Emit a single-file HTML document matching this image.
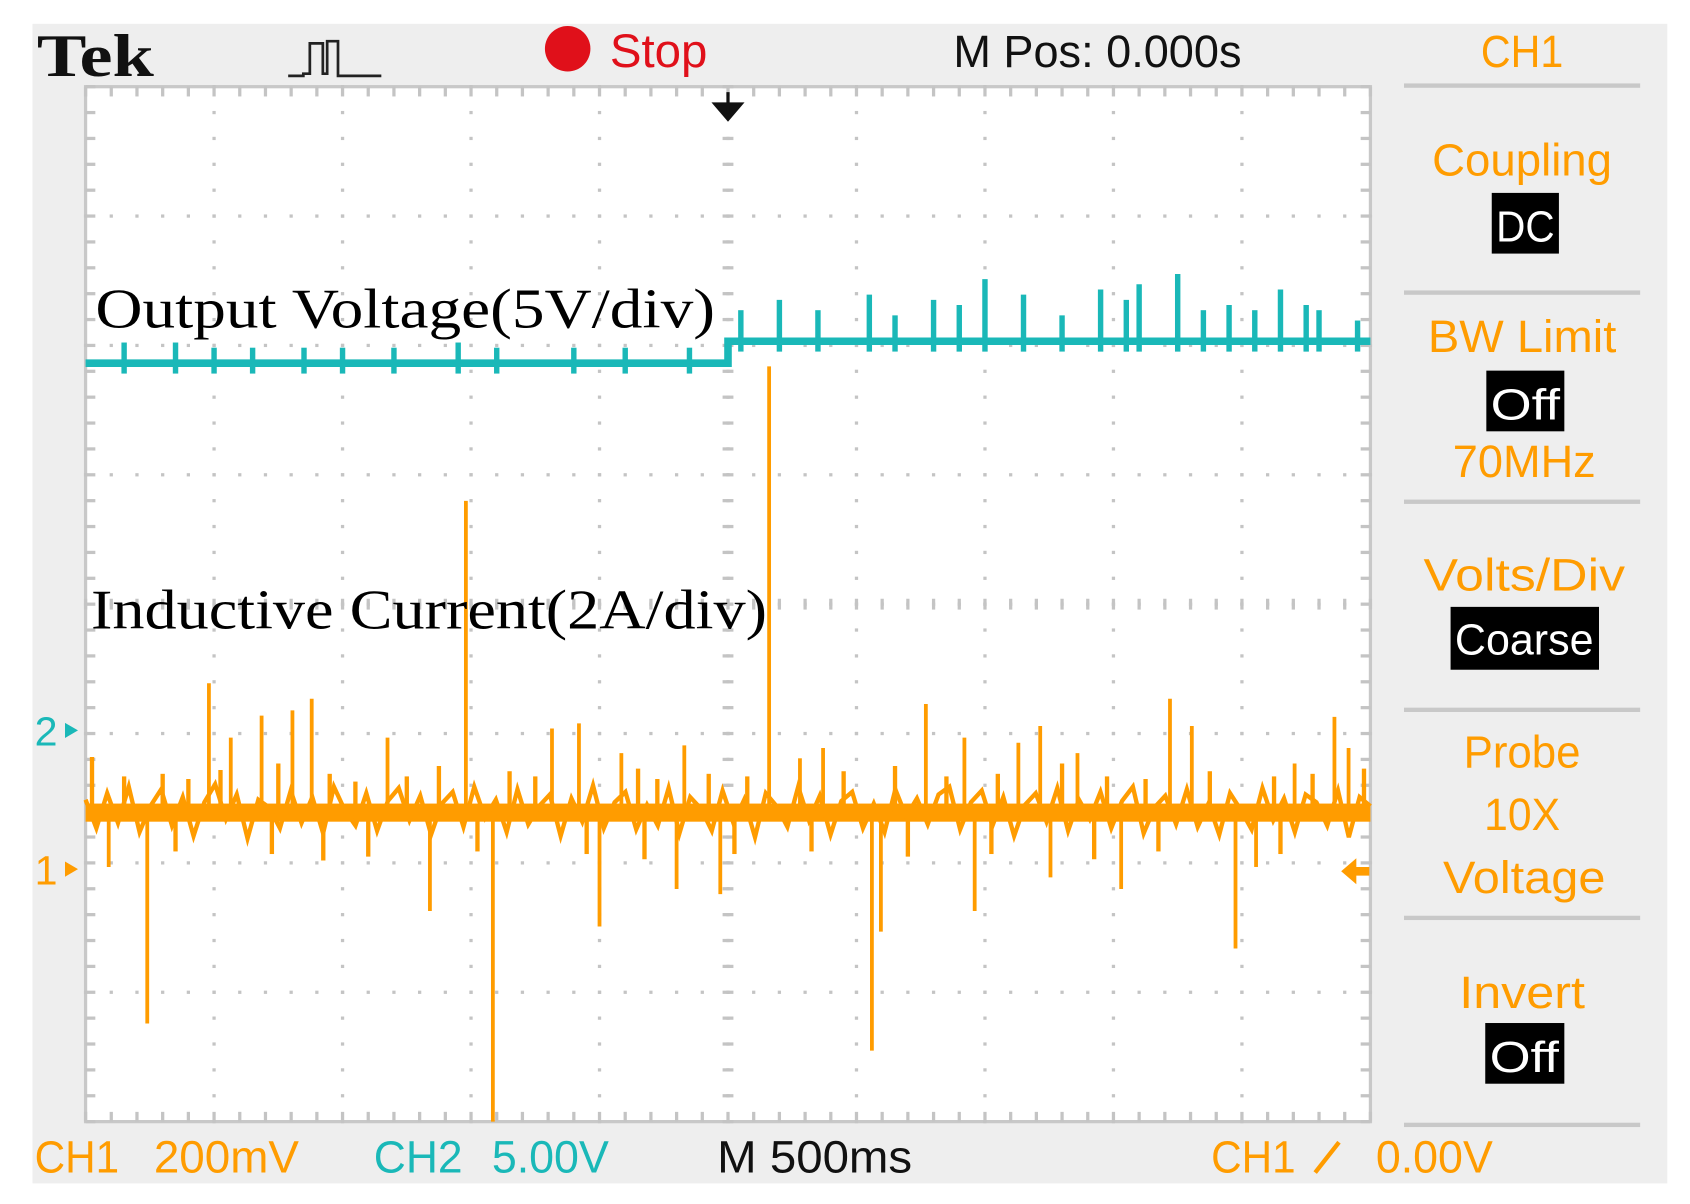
<!DOCTYPE html>
<html><head><meta charset="utf-8"><style>
html,body{margin:0;padding:0;background:#fff;}
svg{display:block;}
.osc{font-family:"Liberation Sans",sans-serif;}
</style></head><body>
<svg id="scope" width="1690" height="1204" viewBox="0 0 1560 1111" preserveAspectRatio="none">
<rect x="30" y="22" width="1509" height="1070" fill="#eeeeee"/>
<rect x="79" y="80" width="1186" height="955" fill="#ffffff" stroke="#c8c8c8" stroke-width="3"/>
<g id="grid"></g>
<g id="traces"></g>
<text x="34" y="70" font-family="Liberation Serif,serif" font-weight="bold" font-size="56" textLength="108" lengthAdjust="spacingAndGlyphs" fill="#111">Tek</text>
<path d="M266 70 h14 v-2 h6 v-28 h12 v28 h4 v-30 h10 v32 h40" fill="none" stroke="#222" stroke-width="2.5"/>
<circle cx="524" cy="45" r="21" fill="#e0101a"/>
<text class="osc" x="563" y="62" font-size="44" textLength="90" lengthAdjust="spacingAndGlyphs" fill="#e0101a">Stop</text>
<text class="osc" x="880" y="62" font-size="42" textLength="266" lengthAdjust="spacingAndGlyphs" fill="#111">M Pos: 0.000s</text>
<path d="M672 85 v20 M660 96 l12 14 l12 -14 z" stroke="#111" stroke-width="3" fill="#111"/>
<g class="osc" fill="#ff9c00" font-size="42" text-anchor="middle">
<text x="1405" y="62" textLength="76" lengthAdjust="spacingAndGlyphs">CH1</text>
<text x="1405" y="162" textLength="166" lengthAdjust="spacingAndGlyphs">Coupling</text>
<text x="1405" y="325" textLength="174" lengthAdjust="spacingAndGlyphs">BW Limit</text>
<text x="1407" y="440" textLength="132" lengthAdjust="spacingAndGlyphs">70MHz</text>
<text x="1407" y="545" textLength="186" lengthAdjust="spacingAndGlyphs">Volts/Div</text>
<text x="1405" y="708" textLength="108" lengthAdjust="spacingAndGlyphs">Probe</text>
<text x="1405" y="766" textLength="70" lengthAdjust="spacingAndGlyphs">10X</text>
<text x="1407" y="824" textLength="150" lengthAdjust="spacingAndGlyphs">Voltage</text>
<text x="1405" y="930" textLength="116" lengthAdjust="spacingAndGlyphs">Invert</text>
</g>
<g fill="#c8c8c8">
<rect x="1296" y="77" width="218" height="4"/><rect x="1296" y="268" width="218" height="4"/><rect x="1296" y="461" width="218" height="4"/><rect x="1296" y="653" width="218" height="4"/><rect x="1296" y="845" width="218" height="4"/><rect x="1296" y="1036" width="218" height="4"/>
</g>
<g class="osc" font-size="40" text-anchor="middle">
<rect x="1377" y="178" width="62" height="56" fill="#000"/><text x="1408" y="223" fill="#fff" textLength="54" lengthAdjust="spacingAndGlyphs">DC</text>
<rect x="1372" y="342" width="72" height="56" fill="#000"/><text x="1408" y="387" fill="#fff" textLength="64" lengthAdjust="spacingAndGlyphs">Off</text>
<rect x="1339" y="560" width="137" height="58" fill="#000"/><text x="1407" y="604" fill="#fff" textLength="128" lengthAdjust="spacingAndGlyphs">Coarse</text>
<rect x="1371" y="944" width="73" height="56" fill="#000"/><text x="1407" y="989" fill="#fff" textLength="64" lengthAdjust="spacingAndGlyphs">Off</text>
</g>
<text class="osc" x="32" y="688" font-size="38" fill="#1ab8b8">2</text>
<path d="M60 667 l12 7 l-12 7 z" fill="#1ab8b8"/>
<text class="osc" x="32" y="816" font-size="38" fill="#ff9c00">1</text>
<path d="M60 795 l12 7 l-12 7 z" fill="#ff9c00"/>
<path d="M1238 804 l14 -12 v8 h12 v8 h-12 v8 z" fill="#ff9c00"/>
<text x="88" y="302" font-family="Liberation Serif,serif" font-size="52" textLength="572" lengthAdjust="spacingAndGlyphs" fill="#000">Output Voltage(5V/div)</text>
<text x="84" y="580" font-family="Liberation Serif,serif" font-size="52" textLength="624" lengthAdjust="spacingAndGlyphs" fill="#000">Inductive Current(2A/div)</text>
<g class="osc" font-size="42">
<text x="32" y="1082" fill="#ff9c00" textLength="78" lengthAdjust="spacingAndGlyphs">CH1</text>
<text x="142" y="1082" fill="#ff9c00" textLength="134" lengthAdjust="spacingAndGlyphs">200mV</text>
<text x="345" y="1082" fill="#1ab8b8" textLength="82" lengthAdjust="spacingAndGlyphs">CH2</text>
<text x="454" y="1082" fill="#1ab8b8" textLength="108" lengthAdjust="spacingAndGlyphs">5.00V</text>
<text x="662" y="1082" fill="#111" textLength="180" lengthAdjust="spacingAndGlyphs">M 500ms</text>
<text x="1118" y="1082" fill="#ff9c00" textLength="78" lengthAdjust="spacingAndGlyphs">CH1</text>
<path d="M1214 1082 l22 -28" stroke="#ff9c00" stroke-width="4"/>
<text x="1270" y="1082" fill="#ff9c00" textLength="108" lengthAdjust="spacingAndGlyphs">0.00V</text>
</g>
</svg>
<script>
// ---- chart data ----
const ch1Baseline = 0.42;
const ch1Noise = [0.1,-0.12,0.15,-0.08,0.2,-0.15,0.05,0.18,-0.1,0.12,-0.18,0.08,0.22,-0.05,0.14,-0.2,0.1,0.04,-0.12,0.17,-0.08,0.12,-0.16,0.2,0.02,-0.1,0.15,-0.14,0.09,0.19,-0.06,0.13,-0.17,0.07,0.16,-0.11,0.2,-0.04,0.1,-0.15,0.18,-0.09,0.05,0.14,-0.18,0.11,-0.07,0.21,-0.12,0.08,0.16,-0.13,0.06,-0.1,0.19,-0.16,0.12,0.03,-0.14,0.17,-0.08,0.1,-0.19,0.15,0.05,-0.11,0.2,-0.06,0.13,-0.17,0.09,0.16,-0.12,0.07,-0.15,0.18,-0.03,0.11,-0.09,0.14,0.2,-0.13,0.08,0.17,-0.1,0.12,-0.18,0.06,0.15,-0.07,0.19,-0.14,0.1,-0.05,0.16,-0.12,0.09,0.2,-0.16,0.04,0.13,-0.09,0.18,-0.11,0.07,-0.17,0.15,0.02,-0.13,0.19,-0.06,0.11,-0.15,0.14,0.08,-0.1,0.17,-0.19,0.12,0.05];
const spikeTimes = [0.96,1.13,1.37,1.61,1.76,2.35,2.96,3.63,3.84,4.17,4.66,5.32,5.56,5.74,6.54,6.84,7.26,7.43,7.72,8.44,8.61,9.41,9.72,9.83,0.48,0.18,2.68,3.17,4.0,4.6,4.94,6.12,6.19,6.92,7.51,8.06,8.95,9.11];
const spikeValues = [1.42,1.0,1.17,1.21,1.30,1.0,2.83,1.07,1.11,0.88,0.94,3.87,0.84,0.92,1.26,1.0,0.96,1.09,0.88,1.30,1.09,0.80,1.16,0.92,-1.21,0.0,-0.34,-1.97,-0.46,-0.17,-0.21,-1.42,-0.5,-0.34,-0.08,-0.17,-0.63,0.0];
const smallSpikeTimes = [0.05,0.3,0.6,0.8,1.05,1.5,1.9,2.1,2.5,2.75,3.3,3.5,4.3,4.45,4.85,5.15,5.9,6.3,6.7,7.1,7.6,7.95,8.25,8.75,9.25,9.55,9.95,0.7,1.45,1.85,2.2,3.05,3.9,4.35,5.05,5.65,6.4,7.05,7.85,8.35,9.3];
const smallSpikeValues = [0.85,0.7,0.72,0.68,0.75,0.8,0.72,0.66,0.7,0.78,0.74,0.7,0.76,0.68,0.72,0.7,0.74,0.78,0.7,0.72,0.8,0.7,0.68,0.74,0.7,0.72,0.76,0.12,0.1,0.05,0.08,0.12,0.1,0.06,0.1,0.12,0.08,0.1,0.06,0.12,0.1];
const vTimes = [0,5.0,5.0,10];
const vLevels = [14.15,14.15,15.0,15.0];
const vBumpTimes = [0.3,0.7,1.0,1.3,1.7,2.0,2.4,2.9,3.2,3.8,4.2,4.7,5.1,5.4,5.7,6.1,6.3,6.6,6.8,7.0,7.3,7.6,7.9,8.1,8.2,8.5,8.7,8.9,9.1,9.3,9.5,9.6,9.9];
const vBumpValues = [0.4,0.4,0.3,0.3,0.3,0.3,0.3,0.4,0.3,0.3,0.3,0.3,0.6,0.8,0.6,0.9,0.5,0.8,0.7,1.2,0.9,0.5,1.0,0.8,1.1,1.3,0.6,0.7,0.6,1.0,0.7,0.6,0.4];
const ch2VoltsPerDiv = 5;
// ---- axes ----
const X0=79,X1=1265,Y0=80,Y1=1035;
const divW=(X1-X0)/10, divH=(Y1-Y0)/8;
const ch1Ground=800, ch2Ground=673;
const xs=t=>X0+t*divW;
const y1=v=>ch1Ground-v*divH;
const y2=v=>ch2Ground-(v/ch2VoltsPerDiv)*divH;
const NS='http://www.w3.org/2000/svg';
function mk(tag,attrs,parent){const e=document.createElementNS(NS,tag);for(const k in attrs)e.setAttribute(k,attrs[k]);parent.appendChild(e);return e;}
const grid=document.getElementById('grid');
for(let i=1;i<10;i++){for(let j=0;j<=40;j++){const c=mk('rect',{x:xs(i)-1.5,y:Y0+j*divH/5-1.5,width:3,height:3,fill:'#c4c4c4'},grid);

}}
for(let j=1;j<8;j++){for(let i=0;i<=50;i++){const c=mk('rect',{x:X0+i*divW/5-1.5,y:Y0+j*divH-1.5,width:3,height:3,fill:'#c4c4c4'},grid);

}}
for(let i=0;i<=50;i++){const xx=X0+i*divW/5;
const t1=mk('rect',{x:xx-1.5,y:Y0,width:3,height:9,fill:'#c4c4c4'},grid);
const t2=mk('rect',{x:xx-1.5,y:Y1-9,width:3,height:9,fill:'#c4c4c4'},grid);
const t3=mk('rect',{x:xx-1.5,y:(Y0+Y1)/2-5,width:3,height:10,fill:'#c4c4c4'},grid);}
for(let j=0;j<=40;j++){const yy=Y0+j*divH/5;
const t1=mk('rect',{x:X0,y:yy-1.5,width:9,height:3,fill:'#c4c4c4'},grid);
const t2=mk('rect',{x:X1-9,y:yy-1.5,width:9,height:3,fill:'#c4c4c4'},grid);
const t3=mk('rect',{x:(X0+X1)/2-5,y:yy-1.5,width:10,height:3,fill:'#c4c4c4'},grid);}
const tr=document.getElementById('traces');
let pv='';vTimes.forEach((t,i)=>{pv+=(i?'L':'M')+xs(t)+' '+y2(vLevels[i]);});
const vl=mk('path',{d:pv,fill:'none',stroke:'#1ab8b8','stroke-width':7},tr);


vBumpTimes.forEach((t,i)=>{const lv=t<5?vLevels[0]:vLevels[2];
const b=mk('line',{x1:xs(t),x2:xs(t),y1:y2(lv-0.4),y2:y2(lv+vBumpValues[i]*2),stroke:'#1ab8b8','stroke-width':5},tr);

});
let pc='';const n=ch1Noise.length;
ch1Noise.forEach((d,i)=>{pc+=(i?'L':'M')+xs(i*10/(n-1))+' '+y1(ch1Baseline+d);});
const band=mk('rect',{x:X0,y:y1(ch1Baseline+0.07),width:X1-X0,height:divH*0.14,fill:'#ff9c00'},tr);


const cl=mk('path',{d:pc,fill:'none',stroke:'#ff9c00','stroke-width':4},tr);


smallSpikeTimes.forEach((t,i)=>{
const s=mk('line',{x1:xs(t),x2:xs(t),y1:y1(ch1Baseline),y2:y1(smallSpikeValues[i]),stroke:'#ff9c00','stroke-width':4},tr);

});
spikeTimes.forEach((t,i)=>{
const s=mk('line',{x1:xs(t),x2:xs(t),y1:y1(ch1Baseline),y2:Math.min(Y1,y1(spikeValues[i])),stroke:'#ff9c00','stroke-width':3.5},tr);

});
</script>
</body></html>
